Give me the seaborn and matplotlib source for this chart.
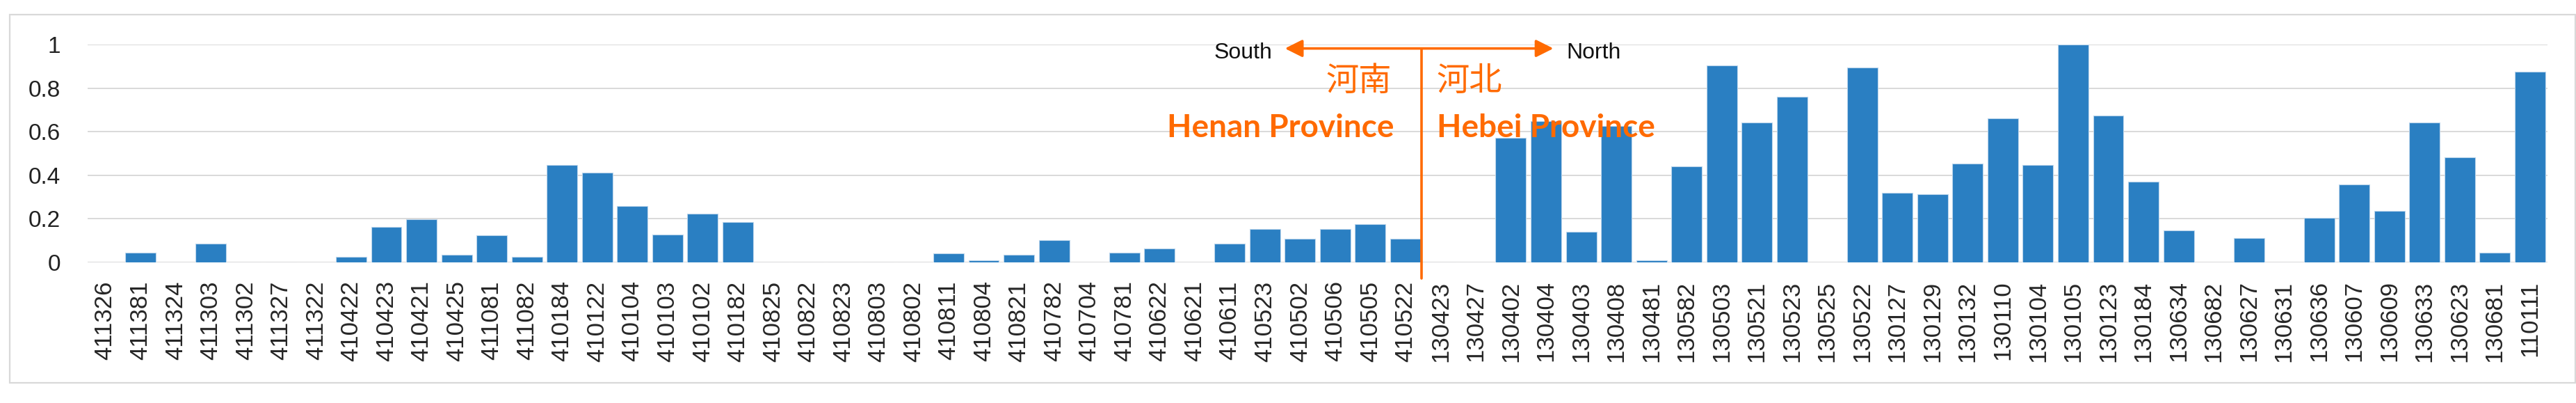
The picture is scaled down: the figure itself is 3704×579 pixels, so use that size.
import matplotlib
matplotlib.use("Agg")
import matplotlib.pyplot as plt
from matplotlib.patches import Rectangle
import seaborn as sns

# county codes, ordered south -> north
henan_codes = ["411326", "411381", "411324", "411303", "411302", "411327", "411322",
               "410422", "410423", "410421", "410425", "411081", "411082", "410184",
               "410122", "410104", "410103", "410102", "410182", "410825", "410822",
               "410823", "410803", "410802", "410811", "410804", "410821", "410782",
               "410704", "410781", "410622", "410621", "410611", "410523", "410502",
               "410506", "410505", "410522"]
henan_values = [0, 0.046, 0, 0.087, 0, 0, 0,
                0.025, 0.163, 0.197, 0.035, 0.125, 0.025, 0.446,
                0.413, 0.259, 0.129, 0.225, 0.184, 0, 0,
                0, 0, 0, 0.041, 0.011, 0.035, 0.103,
                0, 0.045, 0.063, 0, 0.085, 0.152, 0.108,
                0.152, 0.175, 0.108]

hebei_codes = ["130423", "130427", "130402", "130404", "130403", "130408", "130481",
               "130582", "130503", "130521", "130523", "130525", "130522", "130127",
               "130129", "130132", "130110", "130104", "130105", "130123", "130184",
               "130634", "130682", "130627", "130631", "130636", "130607", "130609",
               "130633", "130623", "130681", "110111"]
hebei_values = [0, 0, 0.571, 0.647, 0.141, 0.625, 0.010,
                0.441, 0.904, 0.642, 0.760, 0, 0.894, 0.320,
                0.313, 0.454, 0.660, 0.446, 1.0, 0.675, 0.369,
                0.147, 0, 0.113, 0, 0.203, 0.359, 0.236,
                0.642, 0.482, 0.045, 0.875]

y_ticks = [0, 0.2, 0.4, 0.6, 0.8, 1]
y_tick_labels = ["0", "0.2", "0.4", "0.6", "0.8", "1"]

codes = henan_codes + hebei_codes
values = henan_values + hebei_values

bar_color = "#2a7fc2"
orange = "#ff6a00"
grid_color = "#d9d9d9"

sns.set_style("white")
plt.rcParams["font.family"] = ["Liberation Sans", "Noto Sans CJK SC", "DejaVu Sans"]

fig = plt.figure(figsize=(37.05, 5.79), dpi=100)
ax = fig.add_axes([0.0340, 0.3489, 0.9547, 0.5406])

sns.barplot(x=codes, y=values, order=codes, color=bar_color, saturation=1,
            width=0.87, edgecolor="#bcd6ec", linewidth=0.8, ax=ax)

ax.set_ylim(0, 1)
ax.set_xlim(-0.5, len(codes) - 0.5)
ax.set_yticks(y_ticks)
ax.set_yticklabels(y_tick_labels)
ax.yaxis.grid(True, color=grid_color, lw=1.4)
ax.set_axisbelow(True)
for s in ax.spines.values():
    s.set_visible(False)
ax.tick_params(axis="x", length=0, pad=19, labelsize=25, labelrotation=90)
ax.tick_params(axis="y", length=0, pad=28, labelsize=24)
for t in ax.get_yticklabels():
    t.set_color("#222222")
ax.set_xlabel("")
ax.set_ylabel("")

# province divider and direction arrow
split = len(henan_codes) - 0.55
ax.plot([split, split], [-0.074, 0.982], color=orange, lw=2.6, clip_on=False, zorder=5)
ax.annotate("", xy=(split - 3.88, 0.982), xytext=(split + 3.76, 0.982),
            arrowprops=dict(arrowstyle="<|-|>", color=orange, lw=2.6, mutation_scale=38,
                            shrinkA=0, shrinkB=0),
            annotation_clip=False, zorder=5)
ax.text(split - 4.24, 0.936, "South", ha="right", va="baseline", fontsize=23, color="#111111")
ax.text(split + 4.14, 0.936, "North", ha="left", va="baseline", fontsize=23, color="#111111")

ax.text(split - 0.85, 0.832, "河南", ha="right", va="center", fontsize=34, color=orange,
        family=["Noto Sans CJK SC"], fontweight="light", zorder=6)
ax.text(split + 0.44, 0.832, "河北", ha="left", va="center", fontsize=34, color=orange,
        family=["Noto Sans CJK SC"], fontweight="light", zorder=6)
ax.text(split - 0.77, 0.574, "Henan Province", ha="right", va="baseline", fontsize=33,
        fontweight="bold", color=orange, family=["Lato", "DejaVu Sans"], zorder=6)
ax.text(split + 0.44, 0.574, "Hebei Province", ha="left", va="baseline", fontsize=33,
        fontweight="bold", color=orange, family=["Lato", "DejaVu Sans"], zorder=6)

# chart frame
fig.patches.append(Rectangle((14 / 3705, 1 - 550 / 579), 3689 / 3705, 529 / 579,
                             transform=fig.transFigure, fill=False,
                             edgecolor=grid_color, lw=1.6))

fig.savefig("out.png", dpi=100, facecolor="white")
